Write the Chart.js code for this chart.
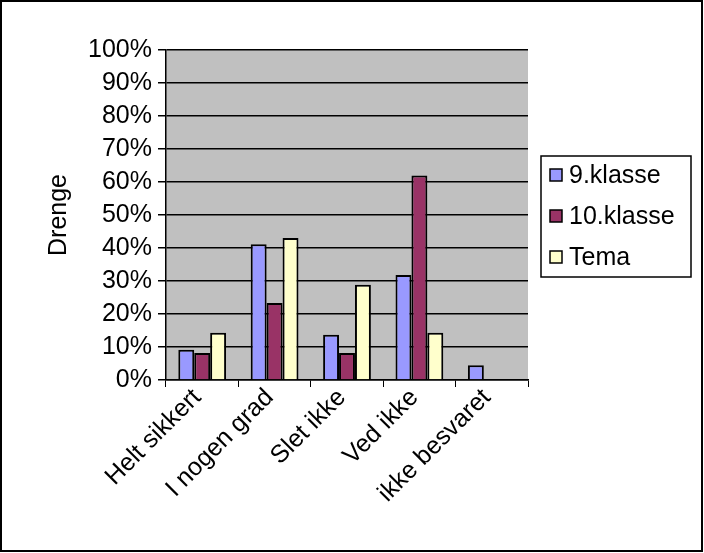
<!DOCTYPE html>
<html>
<head>
<meta charset="utf-8">
<script src="https://cdn.jsdelivr.net/npm/chart.js@4.4.0/dist/chart.umd.min.js"></script>
<style>
  html, body { margin: 0; padding: 0; background: #fff; }
  #wrap { width: 704px; height: 553px; }
</style>
</head>
<body>
<div id="wrap"><canvas id="chart" width="704" height="553"></canvas></div>
<script>
// data (percent)
const categories = ["Helt sikkert", "I nogen grad", "Slet ikke", "Ved ikke", "ikke besvaret"];
const seriesNames = ["9.klasse", "10.klasse", "Tema"];
const klasse9 = [9.2, 41.1, 13.7, 31.8, 4.5];
const klasse10 = [8.2, 23.3, 8.2, 62.0, 0];
const tema = [14.3, 43.0, 28.9, 14.3, 0];
const yMin = 0;
const yMax = 100;
const yStep = 10;
const colors = ["#9999FF", "#993366", "#FFFFCC"];

const FONT = "'Liberation Sans', Arial, sans-serif";

// gray plot area + white page
const plotBackground = {
  id: "plotBackground",
  beforeDraw(chart) {
    const { ctx, chartArea: a } = chart;
    ctx.save();
    ctx.fillStyle = "#fff";
    ctx.fillRect(0, 0, chart.width, chart.height);
    ctx.fillStyle = "#C0C0C0";
    ctx.fillRect(a.left, a.top, a.right - a.left, a.bottom - a.top);
    ctx.restore();
  }
};

// boxed legend on the right and the outer frame
const boxLegend = {
  id: "boxLegend",
  afterDraw(chart) {
    const ctx = chart.ctx;
    ctx.save();
    ctx.strokeStyle = "#000";
    ctx.lineWidth = 2;
    ctx.strokeRect(1, 1, 701, 550);

    const bx = 541, by = 156, bw = 150, bh = 121;
    ctx.lineWidth = 1.5;
    ctx.strokeRect(bx, by, bw, bh);

    ctx.font = "25px " + FONT;
    ctx.textBaseline = "middle";
    ctx.fillStyle = "#000";
    chart.data.datasets.forEach((ds, i) => {
      const cy = by + 19 + i * 41;
      ctx.fillStyle = ds.backgroundColor;
      ctx.fillRect(bx + 9, cy - 6, 12, 12);
      ctx.lineWidth = 1.5;
      ctx.strokeStyle = "#000";
      ctx.strokeRect(bx + 9, cy - 6, 12, 12);
      ctx.fillStyle = "#000";
      ctx.fillText(ds.label, bx + 28, cy + 1);
    });
    ctx.restore();
  }
};

const series = [klasse9, klasse10, tema];

new Chart(document.getElementById("chart"), {
  type: "bar",
  data: {
    labels: categories,
    datasets: series.map((vals, i) => ({
      label: seriesNames[i],
      data: vals,
      backgroundColor: colors[i],
      borderColor: "#000",
      borderWidth: 2,
      borderSkipped: "bottom",
      categoryPercentage: 0.66,
      barPercentage: 1.0
    }))
  },
  options: {
    responsive: false,
    animation: false,
    devicePixelRatio: 1,
    layout: { padding: { left: 0, top: 50, right: 176, bottom: 0 } },
    plugins: {
      legend: { display: false },
      tooltip: { enabled: false }
    },
    scales: {
      x: {
        grid: { display: true, drawOnChartArea: false, drawTicks: true, tickLength: 7, color: "#000", offset: true },
        border: { color: "#000", width: 1.5 },
        ticks: {
          color: "#000",
          font: { family: FONT, size: 25 },
          maxRotation: 45,
          minRotation: 45,
          padding: -4,
          labelOffset: -5
        },
        afterFit(scale) { scale.height = 553 - 380; }
      },
      y: {
        min: yMin,
        max: yMax,
        grid: { color: "#000", lineWidth: 1.5, tickLength: 8 },
        border: { color: "#000", width: 1.5 },
        ticks: {
          stepSize: yStep,
          autoSkip: false,
          color: "#000",
          font: { family: FONT, size: 25 },
          padding: 6,
          callback: v => v + "%"
        },
        title: {
          display: true,
          text: "Drenge",
          color: "#000",
          font: { family: FONT, size: 25 },
          padding: { top: 44, bottom: 0 }
        },
        afterFit(scale) { scale.width = 166; }
      }
    }
  },
  plugins: [plotBackground, boxLegend]
});
</script>
</body>
</html>
